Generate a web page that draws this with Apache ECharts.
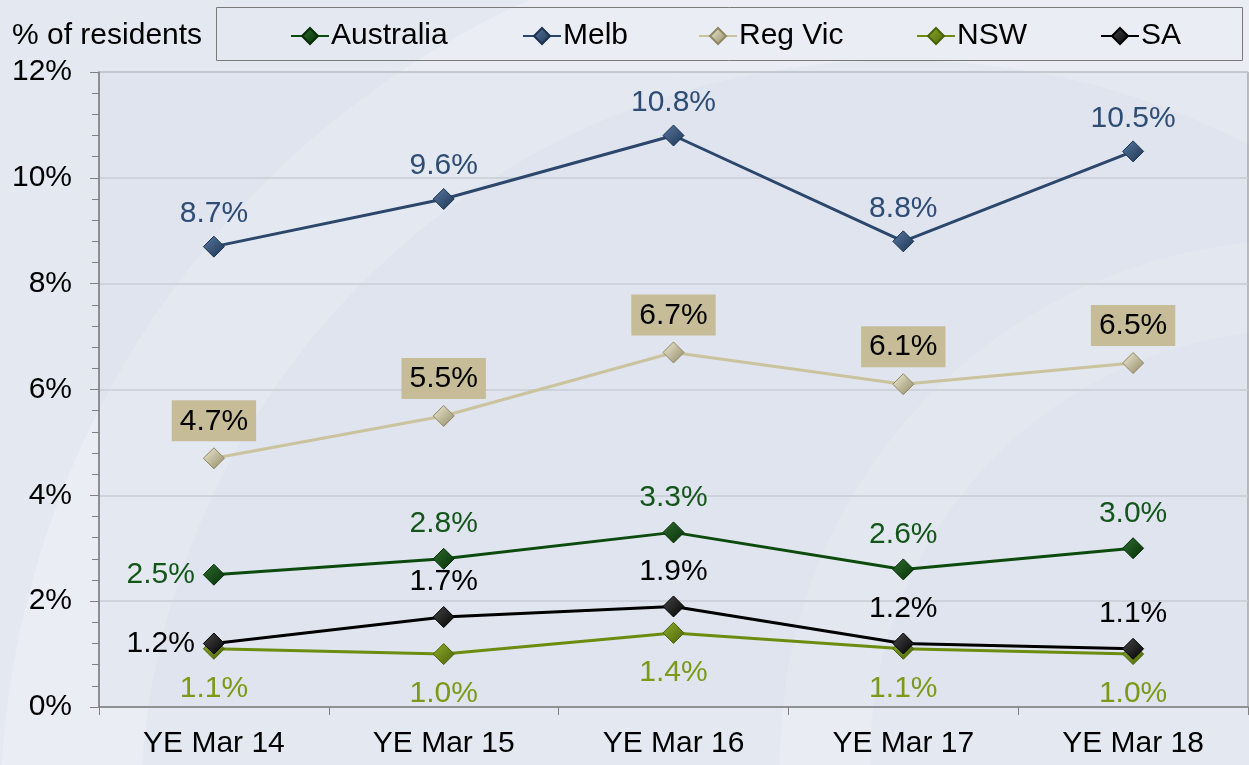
<!DOCTYPE html>
<html>
<head>
<meta charset="utf-8">
<script src="https://cdn.jsdelivr.net/npm/echarts@6/dist/echarts.min.js"></script>
<style>
  html, body { margin: 0; padding: 0; }
  #main { width: 1249px; height: 765px; }
</style>
</head>
<body>
<div id="main"></div>
<script>
// data (% of residents)
var categories = ['YE Mar 14', 'YE Mar 15', 'YE Mar 16', 'YE Mar 17', 'YE Mar 18'];
var australia = [2.5, 2.8, 3.3, 2.6, 3.0];
var melb = [8.7, 9.6, 10.8, 8.8, 10.5];
var regVic = [4.7, 5.5, 6.7, 6.1, 6.5];
var nsw = [1.1, 1.0, 1.4, 1.1, 1.0];
var sa = [1.2, 1.7, 1.9, 1.2, 1.1];

var FONT = 'Liberation Sans, Arial, sans-serif';
var FS = 30;
var chartDom = document.getElementById('main');
var myChart = echarts.init(chartDom);

function fmt(p) { return p.value.toFixed(1) + '%'; }

// first point label sits to the left for some series
function firstLeft(arr) {
  return arr.map(function (v, i) {
    return i === 0 ? { value: v, label: { position: 'left', distance: 8 } } : v;
  });
}

function lineSeries(name, data, color, symColor, label) {
  return {
    name: name,
    type: 'line',
    data: data,
    symbol: 'diamond',
    symbolSize: 21,
    lineStyle: { color: color, width: 3 },
    itemStyle: {
      color: new echarts.graphic.LinearGradient(0, 0, 1, 1, [
        { offset: 0, color: symColor[0] },
        { offset: 1, color: symColor[1] }
      ]),
      borderColor: symColor[1],
      borderWidth: 1
    },
    label: Object.assign({
      show: true,
      formatter: fmt,
      fontFamily: FONT,
      fontSize: FS
    }, label),
    emphasis: { disabled: true },
    animation: false
  };
}

function legendAt(name, left) {
  return {
    data: [name],
    left: left,
    top: 21,
    padding: 0,
    itemWidth: 38,
    itemHeight: 20,
    itemGap: 0,
    textStyle: { fontFamily: FONT, fontSize: FS, color: '#000', padding: [0, 0, 0, -3] }
  };
}

var option = {
  backgroundColor: '#e4e9f1',
  textStyle: { fontFamily: FONT },
  graphic: [
    {
      type: 'ring',
      shape: { cx: 900, cy: 820, r: 900, r0: 760 },
      style: { fill: 'rgba(255,255,255,0.22)' },
      silent: true,
      z: -1
    },
    {
      type: 'ring',
      shape: { cx: 1300, cy: 760, r: 520, r0: 430 },
      style: { fill: 'rgba(255,255,255,0.18)' },
      silent: true,
      z: -1
    },
    {
      type: 'rect',
      shape: { x: 216.5, y: 7.5, width: 1026, height: 53 },
      style: { fill: 'none', stroke: '#7a7a7a', lineWidth: 1 },
      silent: true
    }
  ],
  title: {
    text: '% of residents',
    left: 7,
    top: 16,
    textStyle: { fontFamily: FONT, fontSize: FS, fontWeight: 'normal', color: '#000' }
  },
  legend: [
    legendAt('Australia', 290),
    legendAt('Melb', 522),
    legendAt('Reg Vic', 698),
    legendAt('NSW', 916),
    legendAt('SA', 1100)
  ],
  grid: {
    left: 99,
    right: 1,
    top: 72,
    bottom: 58,
    show: true,
    backgroundColor: 'rgba(214,222,234,0.35)',
    borderColor: '#8a8a8a',
    borderWidth: 1
  },
  xAxis: {
    type: 'category',
    data: categories,
    boundaryGap: true,
    axisLine: { lineStyle: { color: '#808080', width: 1.5 } },
    axisTick: { show: true, length: 8, lineStyle: { color: '#808080' } },
    axisLabel: { fontFamily: FONT, fontSize: FS, color: '#000', margin: 22 }
  },
  yAxis: {
    type: 'value',
    min: 0,
    max: 12,
    interval: 2,
    axisLine: { show: true, lineStyle: { color: '#808080', width: 1.5 } },
    axisTick: { show: true, length: 9, lineStyle: { color: '#808080' } },
    minorTick: { show: true, splitNumber: 5, length: 7, lineStyle: { color: '#808080' } },
    splitLine: { show: true, lineStyle: { color: '#c7ccd4', width: 1.5 } },
    axisLabel: {
      fontFamily: FONT, fontSize: FS, color: '#000', margin: 27,
      formatter: '{value}%'
    }
  },
  series: [
    lineSeries('Australia', firstLeft(australia), '#0d4a0d', ['#2f6d2f', '#062e06'],
      { position: 'top', distance: 9, color: '#14561a' }),
    lineSeries('Melb', melb, '#2c476b', ['#5a7aa3', '#1c3350'],
      { position: 'top', distance: 7, color: '#2f4d74' }),
    lineSeries('Reg Vic', regVic, '#cbc29e', ['#f2eed8', '#8f8763'],
      { position: 'top', distance: 6, color: '#000', backgroundColor: '#c6bc98', padding: [6, 8, 5, 8] }),
    lineSeries('NSW', nsw, '#6c8c10', ['#8fae2a', '#4a620a'],
      { position: 'bottom', distance: 14, color: '#7a9a18' }),
    lineSeries('SA', firstLeft(sa), '#000000', ['#4a4a4a', '#000000'],
      { position: 'top', distance: 9, color: '#000' })
  ]
};

myChart.setOption(option);
window.addEventListener('resize', function () {
  myChart.resize();
});
</script>
</body>
</html>
